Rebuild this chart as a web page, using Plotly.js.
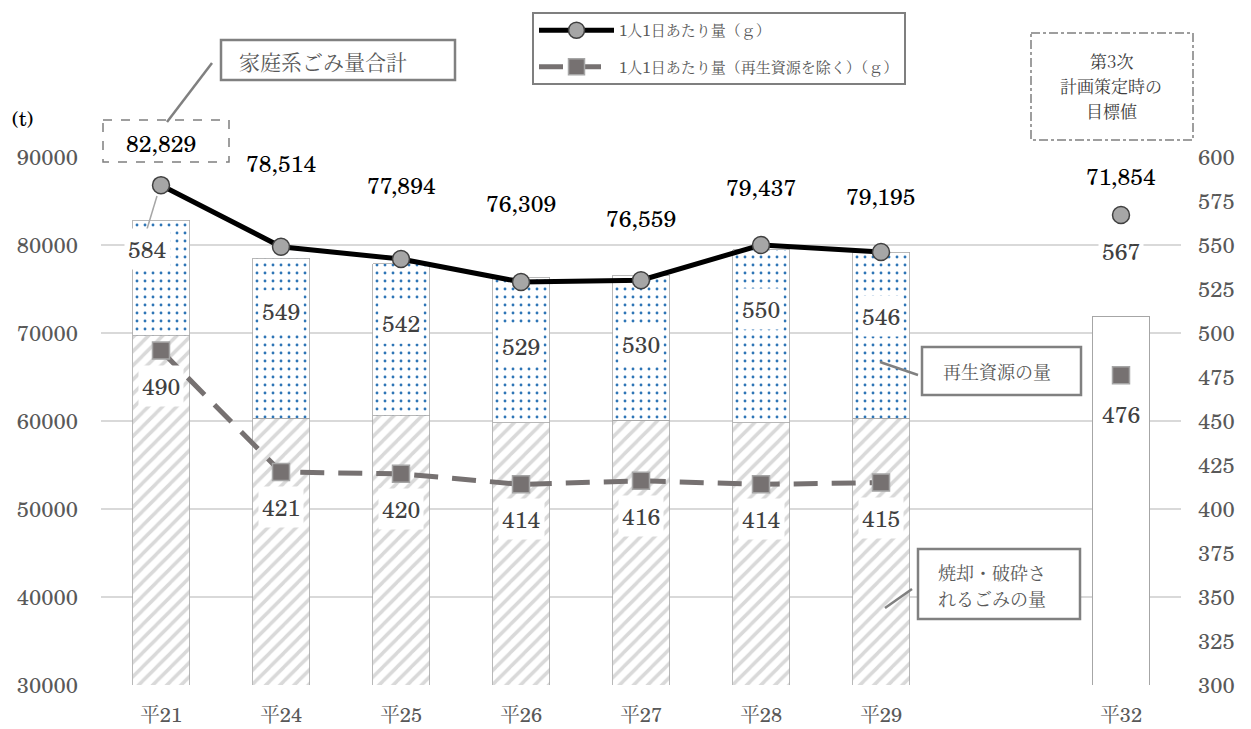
<!DOCTYPE html>
<html>
<head>
<meta charset="utf-8">
<script src="https://cdn.plot.ly/plotly-3.0.1.min.js"></script>
<style>html,body{margin:0;padding:0;background:#fff;}#chart{width:1251px;height:729px;}</style>
</head>
<body>
<div id="chart"></div>
<script>
// ---- data ----
const categories = ['平21', '平24', '平25', '平26', '平27', '平28', '平29', ' ', '平32'];
const totals = [82829, 78514, 77894, 76309, 76559, 79437, 79195, null, 71854];
const incinerated = [69700, 60300, 60600, 59800, 60100, 59800, 60300, null, null];
const recycled = [13129, 18214, 17294, 16509, 16459, 19637, 18895, null, null];
const targetTotal = [null, null, null, null, null, null, null, null, 71854];
const perCapita = [584, 549, 542, 529, 530, 550, 546, null, 567];
const perCapitaExcl = [490, 421, 420, 414, 416, 414, 415, null, 476];
const seriesNames = ['1人1日あたり量（ｇ）', '1人1日あたり量（再生資源を除く）（ｇ）'];
const calloutTotal = '家庭系ごみ量合計';
const calloutRecycled = '再生資源の量';
const calloutIncinerated = ['焼却・破砕さ', 'れるごみの量'];
const calloutTarget = ['第3次', '計画策定時の', '目標値'];

// ---- geometry helpers (plot area in pixels) ----
const W = 1251, H = 729;
const L = 101, R = 1181, T = 157, B = 685;
const px = x => (x - L) / (R - L);
const py = y => (B - y) / (B - T);

const SERIF = "'C059', 'TeX Gyre Schola', 'Century Schoolbook L', 'Noto Serif CJK JP', 'DejaVu Serif', serif";
const JP = "'Noto Serif CJK JP', 'Noto Sans CJK JP', serif";

const barLine = {color: '#a6a6a6', width: 0.8};

const traces = [
  {
    type: 'bar', x: categories, y: incinerated, width: 0.475, showlegend: false, hoverinfo: 'skip',
    marker: {color: '#ffffff', line: barLine,
      pattern: {shape: '/', fgcolor: '#d9d9d9', bgcolor: '#ffffff', size: 10, solidity: 0.35}}
  },
  {
    type: 'bar', x: categories, y: recycled, width: 0.475, showlegend: false, hoverinfo: 'skip',
    marker: {color: '#ffffff', line: barLine,
      pattern: {shape: '.', fgcolor: '#2e75b6', bgcolor: '#ffffff', size: 8, solidity: 0.1}}
  },
  {
    type: 'bar', x: categories, y: targetTotal, width: 0.475, showlegend: false, hoverinfo: 'skip',
    marker: {color: '#ffffff', line: {color: '#a6a6a6', width: 1}}
  },
  {
    type: 'scatter', mode: 'lines+markers', name: seriesNames[0], legendgroup: 'a',
    x: categories, y: perCapita, yaxis: 'y2', connectgaps: false,
    line: {color: '#000000', width: 5},
    marker: {symbol: 'circle', size: 17, color: '#a6a6a6', line: {color: '#404040', width: 1.5}}
  },
  {
    type: 'scatter', mode: 'lines+markers', name: seriesNames[1], legendgroup: 'b',
    x: categories, y: perCapitaExcl, yaxis: 'y2', connectgaps: false,
    line: {color: '#767171', width: 5, dash: '24px,14px'},
    marker: {symbol: 'square', size: 17, color: '#767171', line: {color: '#a6a6a6', width: 1.5}}
  }
];

const annotations = [];
// total labels above markers
const totalShift = [42, 84, 74, 79, 62, 58, 56, 0, 39];
categories.forEach((c, i) => {
  if (totals[i] == null) return;
  annotations.push({x: c, y: perCapita[i], xref: 'x', yref: 'y2', yshift: totalShift[i],
    text: totals[i].toLocaleString('en-US'), showarrow: false,
    font: {family: SERIF, size: 23, color: '#000000'}});
});
// per-capita labels
categories.forEach((c, i) => {
  if (perCapita[i] == null) return;
  annotations.push({x: c, y: perCapita[i], xref: 'x', yref: 'y2',
    yshift: i === 8 ? -36 : -64, xshift: i === 0 ? -14 : 0,
    text: String(perCapita[i]), showarrow: false, bgcolor: '#ffffff', borderpad: 3,
    font: {family: SERIF, size: 23, color: '#404040'}});
});
categories.forEach((c, i) => {
  if (perCapitaExcl[i] == null) return;
  annotations.push({x: c, y: perCapitaExcl[i], xref: 'x', yref: 'y2',
    yshift: i === 8 ? -39 : -35,
    text: String(perCapitaExcl[i]), showarrow: false, bgcolor: '#ffffff', borderpad: 3,
    font: {family: SERIF, size: 23, color: '#404040'}});
});
// callout texts
function pText(text, x, y, size, anchor, color) {
  annotations.push({xref: 'paper', yref: 'paper', x: px(x), y: py(y), xanchor: anchor || 'left',
    yanchor: 'middle', text: text, showarrow: false,
    font: {family: JP, size: size, color: color || '#595959'}});
}
pText(calloutTotal, 237, 61, 21);
pText(calloutRecycled, 941, 371, 18);
pText(calloutIncinerated[0], 936, 572, 18);
pText(calloutIncinerated[1], 936, 598, 18);
pText(calloutTarget[0], 1111, 61, 17, 'center', '#404040');
pText(calloutTarget[1], 1111, 86, 17, 'center', '#404040');
pText(calloutTarget[2], 1111, 111, 17, 'center', '#404040');
annotations.push({xref: 'paper', yref: 'paper', x: px(10), y: py(118), xanchor: 'left', yanchor: 'middle',
  text: '(t)', showarrow: false, font: {family: SERIF, size: 20, color: '#000000'}});

const boxLine = {color: '#808080', width: 2.5};
const shapes = [
  {type: 'rect', xref: 'paper', yref: 'paper', x0: px(103), x1: px(229), y0: py(120), y1: py(162),
    line: {color: '#7f7f7f', width: 1.5, dash: 'dash'}},
  {type: 'rect', xref: 'paper', yref: 'paper', x0: px(1031), x1: px(1193), y0: py(33), y1: py(140),
    line: {color: '#7f7f7f', width: 1.5, dash: 'dashdot'}},
  {type: 'rect', xref: 'paper', yref: 'paper', x0: px(221), x1: px(455), y0: py(40), y1: py(80),
    fillcolor: '#ffffff', line: boxLine},
  {type: 'rect', xref: 'paper', yref: 'paper', x0: px(922), x1: px(1081), y0: py(347), y1: py(395),
    fillcolor: '#ffffff', line: boxLine},
  {type: 'rect', xref: 'paper', yref: 'paper', x0: px(918), x1: px(1080), y0: py(549), y1: py(619),
    fillcolor: '#ffffff', line: boxLine},
  {type: 'line', xref: 'paper', yref: 'paper', x0: px(212), y0: py(63), x1: px(167), y1: py(122),
    line: {color: '#808080', width: 2.5}},
  {type: 'line', xref: 'paper', yref: 'paper', x0: px(157), y0: py(196), x1: px(147), y1: py(229),
    line: {color: '#a6a6a6', width: 1.5}},
  {type: 'line', xref: 'paper', yref: 'paper', x0: px(880), y0: py(362), x1: px(918), y1: py(375),
    line: {color: '#808080', width: 2.5}},
  {type: 'line', xref: 'paper', yref: 'paper', x0: px(885), y0: py(608), x1: px(912), y1: py(589),
    line: {color: '#808080', width: 2.5}}
];

const layout = {
  width: W, height: H,
  margin: {l: L, r: W - R, t: T, b: H - B, pad: 0},
  paper_bgcolor: '#ffffff', plot_bgcolor: '#ffffff',
  font: {family: SERIF, color: '#595959'},
  barmode: 'stack', bargap: 0.525,
  showlegend: true,
  legend: {x: px(532), y: py(12), xanchor: 'left', yanchor: 'top',
    bordercolor: '#7f7f7f', borderwidth: 2, bgcolor: '#ffffff',
    itemwidth: 75, traceorder: 'grouped', tracegroupgap: 14,
    font: {family: SERIF, size: 15, color: '#595959'}},
  xaxis: {type: 'category', categoryorder: 'array', categoryarray: categories,
    range: [-0.5, 8.5], showgrid: false, zeroline: false, showline: false, ticks: '',
    ticklabelstandoff: 16,
    tickfont: {family: SERIF, size: 20, color: '#595959'}},
  yaxis: {range: [30000, 90000], dtick: 10000, tick0: 30000, showgrid: true,
    gridcolor: '#d9d9d9', gridwidth: 1.5, zeroline: false, showline: false, ticks: '',
    ticklabelstandoff: 22, tickformat: 'd',
    tickfont: {family: SERIF, size: 22, color: '#595959'}},
  yaxis2: {range: [300, 600], dtick: 25, tick0: 300, overlaying: 'y', side: 'right',
    showgrid: false, zeroline: false, showline: false, ticks: '', ticklabelstandoff: 16,
    tickfont: {family: SERIF, size: 22, color: '#595959'}},
  annotations: annotations,
  shapes: shapes
};

Plotly.newPlot('chart', traces, layout, {displayModeBar: false, staticPlot: true});
</script>
</body>
</html>
